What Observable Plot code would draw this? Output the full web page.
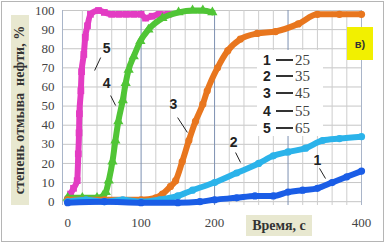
<!DOCTYPE html>
<html><head><meta charset="utf-8">
<script src="https://cdn.jsdelivr.net/npm/d3@7"></script>
<script src="https://cdn.jsdelivr.net/npm/@observablehq/plot@0.6"></script>
<style>
body{margin:0;background:#fff}
#wrap{position:relative;width:385px;height:243px;overflow:hidden;background:#fff}
#frame{position:absolute;left:1px;top:1px;width:381px;height:239px;border:1px solid #b5b5b5;pointer-events:none}
.box{position:absolute;font-family:"Liberation Serif",serif;font-weight:bold;color:#333;background:#e8e8d0;font-size:14px;line-height:1}
#ylab{left:11px;top:15px;width:18px;height:190px;display:flex;align-items:center;justify-content:center}
#ylab span{display:block;transform:rotate(-90deg);white-space:nowrap}
#xlab{left:246px;top:215px;width:66px;height:21px;display:flex;align-items:center;justify-content:center}
#panel{position:absolute;left:347px;top:27px;width:26px;height:33px;background:#f2f000;font-family:"Liberation Sans",sans-serif;font-weight:bold;font-size:11px;color:#333;display:flex;align-items:center;justify-content:center}
#legend{position:absolute;left:257px;top:50px;width:66px;height:86px;background:#fff}
.row{position:absolute;left:6px;height:16px;display:flex;align-items:center;white-space:nowrap}
.row .n{font-family:"Liberation Sans",sans-serif;font-weight:bold;font-size:14px;color:#222;width:10px}
.row .d{display:inline-block;width:17px;height:1.5px;background:#333;margin:0 2px 0 3px}
.row .t{font-family:"Liberation Serif",serif;font-size:15px;color:#444}
svg{position:absolute;left:0;top:0}
</style></head>
<body><div id="wrap"></div>
<script>
// tick labels (the 300 label is hidden behind the axis title in the reference)
const xTicks = [0, 100, 200, 400];
const yTicks = [0, 10, 20, 30, 40, 50, 60, 70, 80, 90, 100];
const xMinor = [20, 40, 60, 80, 120, 140, 160, 180, 220, 240, 260, 280, 320, 340, 360, 380];

// series: time (s) and degree of oil washing (%)
const t1 = [0, 50, 100, 150, 180, 200, 230, 255, 280, 300, 320, 340, 360, 380, 400];
const y1 = [-0.5, 0, -0.5, -0.5, 0, 1, 2, 3, 3, 5, 6, 7, 10, 13, 16];
const t2 = [0, 25, 50, 75, 100, 125, 150, 170, 200, 230, 260, 280, 300, 324, 347, 370, 400];
const y2 = [0, 1, 0, 1, 0, 1, 3, 6, 10, 15, 20, 24, 26, 28, 32, 33, 34];
const t3 = [0, 50, 100, 120, 129, 140, 147, 156, 165, 174, 184, 190, 204, 218, 235, 258, 283, 314, 340, 370, 400];
const y3 = [1, 1, 1, 2, 4, 8, 11, 21, 32, 42, 51, 58, 70, 79, 85, 88, 89, 93, 98, 98, 98];
const t4 = [0, 20, 40, 48, 52, 56, 61, 65, 69, 75, 79, 83, 90, 99, 110, 129, 151, 170, 184, 197];
const y4 = [2, 2, 2, 3, 5, 11, 21, 32, 42, 53, 62, 69, 76, 84, 90, 96, 99, 100, 100, 99];
const t5 = [0, 4, 8, 13, 14.5, 15.5, 16, 18, 19, 22, 24, 27, 31, 42, 50, 60, 70, 80, 90, 100, 106, 115, 125, 137];
const y5 = [1, 4, 7, 11, 25, 36, 46, 58, 68, 77, 86, 92, 98, 100, 99, 98, 98, 98, 98, 98, 96, 97, 98, 98];

// legend
const seriesNames = ["1", "2", "3", "4", "5"];
const temps = ["25", "35", "45", "55", "65"];
const colors = ["#1a5de6", "#2bb3ea", "#e8761e", "#50c536", "#e33cc3"];
const symbols = ["circle", "circle", "circle", "triangle", "square"];

const ts = [t1, t2, t3, t4, t5], ys = [y1, y2, y3, y4, y5];
const series = ts.map((t, i) => t.map((x, j) => ({x, y: ys[i][j]})));

// callout labels (label, text pos, leader start, leader end)
const callouts = [
  {s: "5", x: 53, y: 80, x1: 45, y1: 75.4, x2: 36.7, y2: 68.6},
  {s: "4", x: 53, y: 62, x1: 58.5, y1: 55.5, x2: 65.3, y2: 50.3},
  {s: "3", x: 144, y: 51, x1: 149.7, y1: 44, x2: 163, y2: 36.2},
  {s: "2", x: 226, y: 31, x1: 228.6, y1: 25.7, x2: 235.4, y2: 20.5},
  {s: "1", x: 340, y: 21.5, x1: 342.9, y1: 17.4, x2: 351, y2: 12.1}
];

const order = [4, 3, 2, 1, 0];
const marks = [
  Plot.ruleY(yTicks, {stroke: "#c6c6c6", strokeWidth: 1}),
  Plot.ruleX(xMinor, {stroke: "#cdcdcd", strokeWidth: 1}),
  Plot.ruleX([100, 200, 300], {stroke: "#7d90b2", strokeWidth: 1}),
  Plot.ruleX([-7, 400], {stroke: "#a9b5c9", strokeWidth: 1}),
];
for (const i of order) {
  marks.push(Plot.line(series[i], {x: "x", y: "y", stroke: colors[i], strokeWidth: 6, curve: "monotone-x"}));
  marks.push(Plot.dot(series[i], {x: "x", y: "y", fill: colors[i], symbol: () => symbols[i], r: i >= 3 ? 3.8 : 3.6}));
}
marks.push(Plot.link(callouts, {x1: "x1", y1: "y1", x2: "x2", y2: "y2", stroke: "#222", strokeWidth: 1}));
marks.push(Plot.text(callouts, {x: "x", y: "y", text: "s", fontFamily: "Liberation Sans, sans-serif", fontWeight: "bold", fontSize: 14, fill: "#222"}));

const chart = Plot.plot({
  width: 385, height: 243,
  marginLeft: 62, marginRight: 24, marginTop: 10, marginBottom: 38,
  style: {background: "transparent", fontFamily: "Liberation Serif, serif", fontSize: "13px", color: "#444"},
  x: {domain: [-7, 400], ticks: xTicks, tickSize: 0, tickPadding: 12, label: null},
  y: {domain: [-2, 100], ticks: yTicks, tickSize: 0, tickPadding: 8, label: null},
  symbol: {type: "identity"},
  marks
});
const wrap = document.getElementById("wrap");
wrap.appendChild(chart);

const yl = document.createElement("div"); yl.className = "box"; yl.id = "ylab";
yl.innerHTML = "<span>степень отмыва&nbsp; нефти, %</span>"; wrap.appendChild(yl);
const xl = document.createElement("div"); xl.className = "box"; xl.id = "xlab";
xl.textContent = "Время, с"; wrap.appendChild(xl);
const pn = document.createElement("div"); pn.id = "panel"; pn.textContent = "в)"; wrap.appendChild(pn);
const lg = document.createElement("div"); lg.id = "legend"; wrap.appendChild(lg);
const rowTops = [2, 18, 35, 53, 70];
seriesNames.forEach((n, i) => {
  const r = document.createElement("div"); r.className = "row"; r.style.top = rowTops[i] + "px";
  r.innerHTML = `<span class="n">${n}</span><span class="d"></span><span class="t">${temps[i]}</span>`;
  lg.appendChild(r);
});
const fr = document.createElement("div"); fr.id = "frame"; wrap.appendChild(fr);
</script></body></html>
